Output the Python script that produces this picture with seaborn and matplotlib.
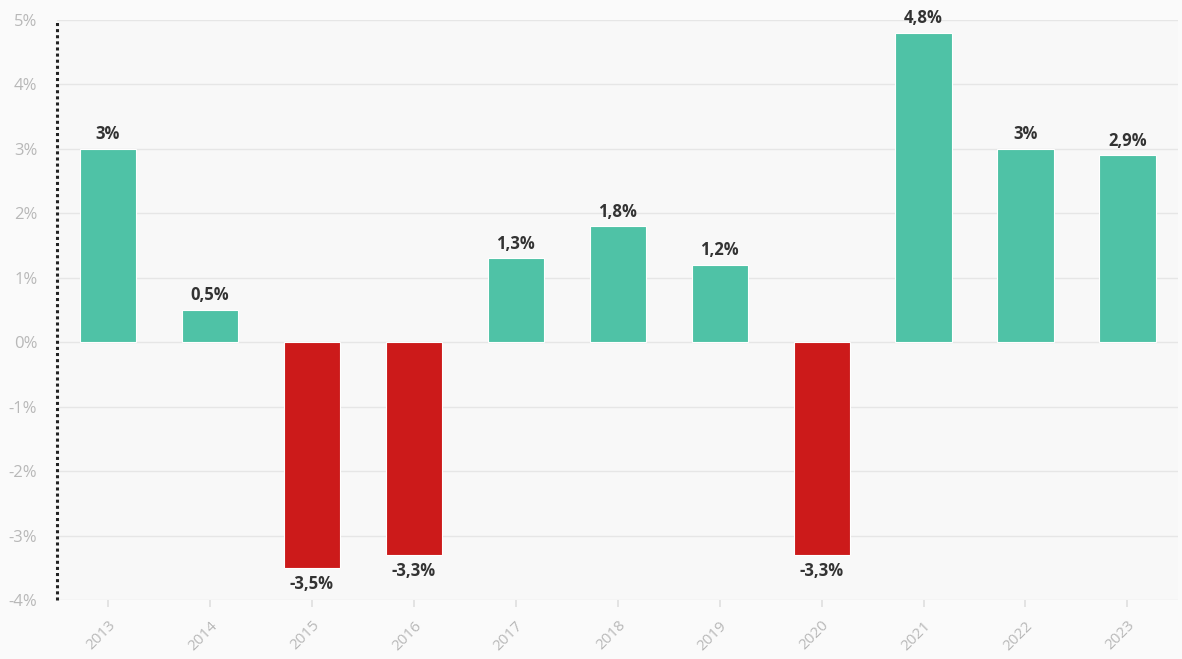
import matplotlib
matplotlib.use("Agg")
import matplotlib.pyplot as plt
import matplotlib.ticker as mticker
import seaborn as sns
import pandas as pd

# ─── data ────────────────────────────────────────────────────────────────────
years = ["2013", "2014", "2015", "2016", "2017", "2018", "2019", "2020", "2021", "2022", "2023"]
growth = [3.0, 0.5, -3.5, -3.3, 1.3, 1.8, 1.2, -3.3, 4.8, 3.0, 2.9]

POS_COLOR = "#4fc2a6"
NEG_COLOR = "#cc1a1a"

df = pd.DataFrame({"year": years, "growth": growth})
colors = [POS_COLOR if v >= 0 else NEG_COLOR for v in growth]

# ─── style ───────────────────────────────────────────────────────────────────
sns.set_theme(style="white")
plt.rcParams["font.family"] = ["Open Sans", "DejaVu Sans"]

fig = plt.figure(figsize=(11.82, 6.59), dpi=100)
fig.patch.set_facecolor("#fafafa")
ax = fig.add_axes([0.048, 0.0895, 0.949, 0.8805])
ax.set_facecolor("#f8f8f8")

sns.barplot(data=df, x="year", y="growth", hue="year", palette=colors,
            width=0.55, legend=False, ax=ax, saturation=1,
            edgecolor="#ffffff", linewidth=0.8)

ax.set_ylim(-4, 5)
ax.set_xlim(-0.5, len(years) - 0.5)
ax.yaxis.set_major_locator(mticker.MultipleLocator(1))
ax.yaxis.set_major_formatter(mticker.FuncFormatter(lambda v, _: f"{v:.0f}%"))
ax.grid(axis="y", color="#e6e6e6", linewidth=1)
ax.set_axisbelow(True)

for side in ["top", "right", "bottom", "left"]:
    ax.spines[side].set_visible(False)
# dotted left axis line
ax.axvline(-0.5, color="#222222", linewidth=2.2, linestyle=(0, (1, 1)),
           clip_on=False, zorder=5)

ax.tick_params(axis="y", labelsize=12, labelcolor="#b8b8b8", length=0, pad=14)
ax.tick_params(axis="x", labelsize=11, labelcolor="#b8b8b8", length=5,
               color="#e0e0e0", bottom=True, pad=8)
for lbl in ax.get_xticklabels():
    lbl.set_rotation(45)
    lbl.set_ha("right")
    lbl.set_rotation_mode("anchor")
ax.set_xlabel("")
ax.set_ylabel("")

# value labels
for i, v in enumerate(growth):
    txt = f"{v:g}".replace(".", ",") + "%"
    if v >= 0:
        ax.annotate(txt, (i, v), xytext=(0, 4), textcoords="offset points",
                    ha="center", va="bottom", fontsize=12, fontweight="bold", color="#333333")
    else:
        ax.annotate(txt, (i, v), xytext=(0, -5), textcoords="offset points",
                    ha="center", va="top", fontsize=12, fontweight="bold", color="#333333")

plt.savefig("out.png", dpi=100, facecolor=fig.get_facecolor())
plt.close()
